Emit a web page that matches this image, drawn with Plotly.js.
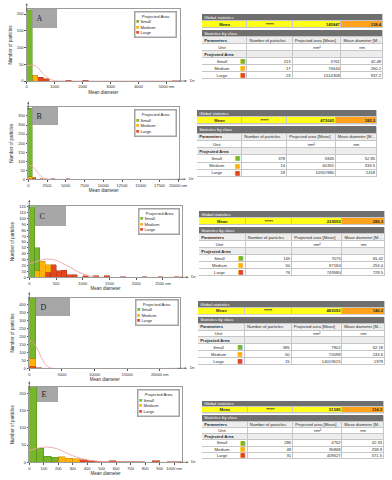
<!DOCTYPE html>
<html>
<head>
<meta charset="utf-8">
<script src="https://cdn.plot.ly/plotly-3.0.1.min.js"></script>
<style>
  html, body { margin: 0; padding: 0; background: #fff; }
  #plot { width: 392px; height: 480px; }
</style>
</head>
<body>
<div id="plot"></div>
<script>
// ---- data (one entry per panel A..E) ----
const panels = ["A", "B", "C", "D", "E"];
const bin_width = [200, 500, 100, 1000, 50];

// histogram bins (bin centres, nm) and counts per class
const small_x = [[100], [250], [50, 150], [500], [25, 75, 125, 175]];
const small_y = [[213], [378], [120, 38], [385], [217, 40, 18, 11]];
const medium_x = [[300], [250, 750], [150, 250, 350], [500], [175, 225, 275, 325]];
const medium_y = [[17], [12, 2], [12, 27, 12], [50], [3, 16, 12, 10]];
const large_x = [
    [500, 700, 1500, 2100, 5300],
    [250, 750, 1750, 3250, 5250, 19750],
    [350, 450, 550, 650, 750, 850, 1050, 1250, 1450, 1750, 2150, 2450, 2750],
    [500, 1500, 21500],
    [375, 425, 475, 525, 575, 625, 675, 725, 775, 875, 975, 1025]
];
const large_y = [
    [11, 6, 2, 2, 1],
    [2, 9, 2, 2, 2, 1],
    [9, 21, 11, 12, 4, 4, 3, 3, 3, 1, 1, 1, 1],
    [12, 2, 1],
    [7, 4, 3, 2, 5, 1, 2, 2, 2, 4, 1, 1]
];

// fitted distribution curve (read point by point)
const curve_x = [
    [0, 100, 200, 300, 400, 500, 600, 700, 800, 900, 1000, 1200, 5480],
    [0, 250, 500, 750, 1000, 1250, 1500, 1750, 2000, 2500, 3000, 20100],
    [0, 100, 200, 300, 400, 500, 600, 700, 800, 900, 1000, 1100, 1200, 1300, 2850],
    [0, 250, 500, 750, 1000, 1250, 1500, 1750, 2000, 2500, 3000, 3500, 23100],
    [0, 50, 100, 150, 200, 250, 300, 350, 400, 450, 500, 600, 1053]
];
const curve_y = [
    [45, 47, 48, 46, 40, 30, 21, 13, 7, 3, 1, 0, 0],
    [75, 76, 72, 64, 52, 38, 25, 14, 7, 2, 0, 0],
    [23, 26, 29, 31, 31, 29, 25, 20, 15, 10, 6, 3, 1, 0, 0],
    [172, 172, 168, 158, 142, 122, 100, 77, 56, 24, 7, 0, 0],
    [34, 40, 44, 43, 38, 28, 19, 12, 7, 4, 2, 0, 0]
];

// axes
const x_max = [5480, 20100, 2850, 23100, 1053];
const y_max = [215, 398, 122, 446, 217];
const y_dtick = [50, 50, 10, 50, 50];
const x_ticks = [
    [0, 1000, 2000, 3000, 4000, 5000],
    [0, 2500, 5000, 7500, 10000, 12500, 15000, 17500, 20000],
    [0, 500, 1000, 1500, 2000, 2500],
    [0, 5000, 10000, 15000, 20000],
    [0, 100, 200, 300, 400, 500, 600, 700, 800, 900, 1000]
];

// statistics tables
const class_names = ["Small", "Medium", "Large"];
const mean_area = ["145847", "473065", "229592", "482092", "51585"];
const mean_diam = ["138.4", "182.3", "286.3", "146.2", "114.3"];
const counts = [[213, 17, 23], [378, 14, 18], [145, 50, 76], [385, 50, 15], [286, 48, 31]];
const areas = [
    ["3761", "74644", "1514308"],
    ["5845", "60351", "10557880"],
    ["7075", "87184", "749580"],
    ["7902", "72098", "14019615"],
    ["4762", "96868", "409627"]
];
const diams = [
    ["42.48", "260.2", "937.2"],
    ["52.85", "333.5", "2418"],
    ["65.42", "253.4", "729.5"],
    ["62.18", "243.6", "1979"],
    ["42.33", "258.8", "571.5"]
];

// ---- layout geometry (px in the 392x480 page) ----
const W = 392, H = 480;
const px = (v) => v / W;
const py = (v) => 1 - v / H;

const plot_box = [[26.7, 180, 9, 81], [28.3, 179, 107.3, 179.3], [29.3, 181.7, 205.7, 277.3], [29.3, 180, 297.7, 368.3], [29.3, 181.7, 387.3, 462.3]];
const table_box = [[202, 383, 14, 79], [197, 377, 110, 177], [199, 385, 211, 276], [198, 385, 301, 365], [202, 384, 401, 459]];
const tag_box = [[32, 57, 9, 28], [31.7, 57.3, 107.3, 125.7], [35, 66, 205.7, 225.7], [35.7, 70, 297.7, 315.7], [36.7, 57.7, 387.3, 402.7]];
const legend_box = [[134, 177, 11, 38], [134, 177, 109, 137], [138, 180, 208, 235], [135, 179, 299, 326], [137, 180, 389, 417]];

const GREEN = "#78b72c", ORANGE = "#ffb20a", RED = "#e4471e";
const FONT = "Liberation Sans, Arial, sans-serif";
const TXT = "#2b2b2b";

// table grid (x in 0..1 of table width, y in row units, top to bottom)
const col_edges = [0, 0.25, 0.5, 0.77, 1];
const row_edges = [0, 7, 14, 16, 23, 30, 37, 44, 51, 58, 65];
const rc = (i) => (row_edges[i] + row_edges[i + 1]) / 2;
// colour codes: 0 white, 1 light grey, 2 yellow, 3 orange, 4 dark grey
const cell_scale = [
    [0, "#ffffff"], [0.125, "#ffffff"],
    [0.125, "#ededed"], [0.375, "#ededed"],
    [0.375, "#ffff1a"], [0.625, "#ffff1a"],
    [0.625, "#ffa21c"], [0.875, "#ffa21c"],
    [0.875, "#6f6f6f"], [1, "#6f6f6f"]
];
const body_z = [
    [null, null, null, null],
    [2, 2, 2, 3],
    [null, null, null, null],
    [null, null, null, null],
    [1, 1, 1, 1],
    [0, 0, 0, 0],
    [1, 1, 1, 1],
    [0, 0, 0, 0],
    [0, 0, 0, 0],
    [0, 0, 0, 0]
];
const head_z = [[4], [null], [null], [4], [null], [null], [null], [null], [null], [null]];

const data = [];
const annotations = [];
const shapes = [];
const layout = {
    width: W,
    height: H,
    margin: { l: 0, r: 0, t: 0, b: 0 },
    paper_bgcolor: "#ffffff",
    plot_bgcolor: "#ffffff",
    showlegend: false,
    barmode: "stack",
    bargap: 0,
    font: { family: FONT, color: TXT, size: 4 }
};

const axis_id = (n) => (n === 1 ? "" : String(n));

panels.forEach((p, i) => {
    const n = i + 1;
    const xa = "x" + axis_id(n), ya = "y" + axis_id(n);
    const [l, r, t, b] = plot_box[i];

    const bar = (x, y, color, edge) => ({
        type: "bar", x: x, y: y, width: bin_width[i],
        xaxis: xa, yaxis: ya, hoverinfo: "skip",
        marker: { color: color, line: { color: edge, width: 0.5 } }
    });
    data.push(bar(large_x[i], large_y[i], RED, "#a9321a"));
    data.push(bar(medium_x[i], medium_y[i], ORANGE, "#c7860a"));
    data.push(bar(small_x[i], small_y[i], GREEN, "#4f8a1c"));
    data.push({
        type: "scatter", mode: "lines", x: curve_x[i], y: curve_y[i],
        xaxis: xa, yaxis: ya, hoverinfo: "skip", cliponaxis: true,
        line: { color: "#f0a3a3", width: 0.9, shape: "spline", smoothing: 0.8 }
    });

    const ticks = x_ticks[i];
    layout["xaxis" + axis_id(n)] = {
        domain: [px(l), px(r)], anchor: ya, range: [0, x_max[i]],
        tickvals: ticks,
        ticktext: ticks.map((v, k) => (k === ticks.length - 1 ? v + " nm" : String(v))),
        tickfont: { size: 4, color: TXT }, ticks: "outside", ticklen: 1.5, tickcolor: "#555",
        showline: true, mirror: true, linecolor: "#9c9c9c", linewidth: 1,
        showgrid: false, zeroline: false, fixedrange: true,
        title: { text: "Mean diameter", font: { size: 4.5, color: TXT }, standoff: 2 }
    };
    layout["yaxis" + axis_id(n)] = {
        domain: [py(b), py(t)], anchor: xa, range: [0, y_max[i]], dtick: y_dtick[i],
        tickfont: { size: 4, color: TXT }, ticks: "outside", ticklen: 1.5, tickcolor: "#555",
        showline: true, mirror: true, linecolor: "#9c9c9c", linewidth: 1,
        showgrid: false, zeroline: false, fixedrange: true,
        title: { text: "Number of particles", font: { size: 4.5, color: TXT }, standoff: 4 }
    };

    // axis arrows and the Dn mark
    annotations.push({
        xref: xa + " domain", yref: ya + " domain", x: 1.045, y: 0, ax: -10, ay: 0,
        text: "", showarrow: true, arrowhead: 2, arrowsize: 0.6, arrowwidth: 0.7, arrowcolor: "#555"
    });
    annotations.push({
        xref: xa + " domain", yref: ya + " domain", x: 0, y: 1.08, ax: 0, ay: 10,
        text: "", showarrow: true, arrowhead: 2, arrowsize: 0.6, arrowwidth: 0.7, arrowcolor: "#555"
    });
    annotations.push({
        xref: xa + " domain", yref: ya + " domain", x: 1.05, y: 0, xanchor: "left", yanchor: "middle",
        text: "Dn", showarrow: false, font: { size: 3.6, color: TXT }
    });

    // panel letter box
    const [tl, tr, tt, tb] = tag_box[i];
    annotations.push({
        xref: "paper", yref: "paper", x: px(tl), y: py(tt), xanchor: "left", yanchor: "top",
        text: "\u00a0\u00a0" + p, showarrow: false, align: "left", valign: "middle",
        width: tr - tl - 1, height: tb - tt - 1, borderpad: 0,
        bgcolor: "#a7a7a7", bordercolor: "#8d8d8d", borderwidth: 0.5,
        font: { family: "Liberation Serif, DejaVu Serif, serif", size: 8, color: "#1e1e1e" }
    });

    // "Projected Area" key
    const [gl, gr, gt, gb] = legend_box[i];
    const sw = (c) => '<span style="color:' + c + ';font-size:5.5px">\u25a0</span>';
    annotations.push({
        xref: "paper", yref: "paper", x: px(gl), y: py(gt), xanchor: "left", yanchor: "top",
        text: "\u00a0\u00a0\u00a0\u00a0\u00a0Projected Area<br>" +
              sw(GREEN) + " " + class_names[0] + "<br>" +
              sw(ORANGE) + " " + class_names[1] + "<br>" +
              sw(RED) + " " + class_names[2],
        showarrow: false, align: "left", valign: "middle",
        width: gr - gl - 4, height: gb - gt - 4, borderpad: 0.5,
        bgcolor: "#ffffff", bordercolor: "#a3a3a3", borderwidth: 1.5,
        font: { size: 4.2, color: TXT }
    });

    // ---- statistics table ----
    const m = n + 5;
    const txa = "x" + m, tya = "y" + m;
    const [bl, br, bt, bb] = table_box[i];
    layout["xaxis" + m] = { domain: [px(bl), px(br)], anchor: tya, range: [0, 1], visible: false, fixedrange: true };
    layout["yaxis" + m] = { domain: [py(bb), py(bt)], anchor: txa, range: [65, 0], visible: false, fixedrange: true };

    shapes.push({ type: "rect", xref: txa, yref: tya, x0: col_edges[0], x1: col_edges[4], y0: row_edges[0], y1: row_edges[2],
        fillcolor: "#c6c6c6", line: { width: 0 }, layer: "below" });
    shapes.push({ type: "rect", xref: txa, yref: tya, x0: col_edges[0], x1: col_edges[4], y0: row_edges[3], y1: row_edges[10],
        fillcolor: "#c6c6c6", line: { width: 0 }, layer: "below" });

    data.push({
        type: "heatmap", x: col_edges, y: row_edges, z: body_z, xaxis: txa, yaxis: tya,
        colorscale: cell_scale, zmin: 0, zmax: 4, showscale: false, hoverinfo: "skip", xgap: 1, ygap: 1
    });
    data.push({
        type: "heatmap", x: [0, 1], y: row_edges, z: head_z, xaxis: txa, yaxis: tya,
        colorscale: cell_scale, zmin: 0, zmax: 4, showscale: false, hoverinfo: "skip", xgap: 1, ygap: 1
    });

    const text_trace = (xs, ys, texts, pos, color) => ({
        type: "scatter", mode: "text", x: xs, y: ys, text: texts, textposition: pos,
        xaxis: txa, yaxis: tya, hoverinfo: "skip", cliponaxis: false,
        textfont: { family: FONT, size: 4.2, color: color }
    });

    // white header captions
    data.push(text_trace([0.012, 0.012], [rc(0), rc(3)],
        ["Global statistics", "Statistics by class"], "middle right", "#ffffff"));
    // left aligned captions
    data.push(text_trace(
        [0.012, 0.262, 0.512, 0.782, 0.012],
        [rc(4), rc(4), rc(4), rc(4), rc(6)],
        ["<b>Parameters</b>", "Number of particles", "Projected area [Mean]", "Mean diameter [M...", "<b>Projected Area</b>"],
        "middle right", TXT));
    // centred texts
    data.push(text_trace(
        [0.125, 0.375, 0.11, 0.635, 0.885, 0.11, 0.11, 0.11],
        [rc(1), rc(1), rc(5), rc(5), rc(5), rc(7), rc(8), rc(9)],
        ["<b>Mean</b>", "<b>*****</b>", "Unit", "nm\u00b2", "nm"].concat(class_names),
        "middle center", TXT));
    // right aligned numbers
    data.push(text_trace(
        [0.762, 0.99, 0.49, 0.49, 0.49, 0.762, 0.762, 0.762, 0.99, 0.99, 0.99],
        [rc(1), rc(1), rc(7), rc(8), rc(9), rc(7), rc(8), rc(9), rc(7), rc(8), rc(9)],
        ["<b>" + mean_area[i] + "</b>", "<b>" + mean_diam[i] + "</b>"]
            .concat(counts[i].map(String), areas[i], diams[i]),
        "middle left", TXT));
    // class colour swatches
    data.push({
        type: "scatter", mode: "text", x: [0.225, 0.225, 0.225], y: [rc(7), rc(8), rc(9)],
        text: ["\u25a0", "\u25a0", "\u25a0"], textposition: "middle center",
        xaxis: txa, yaxis: tya, hoverinfo: "skip", cliponaxis: false,
        textfont: { family: "DejaVu Sans", size: 6, color: [GREEN, ORANGE, RED] }
    });
});

layout.annotations = annotations;
layout.shapes = shapes;

Plotly.newPlot("plot", data, layout, { staticPlot: true, responsive: false });
</script>
</body>
</html>
